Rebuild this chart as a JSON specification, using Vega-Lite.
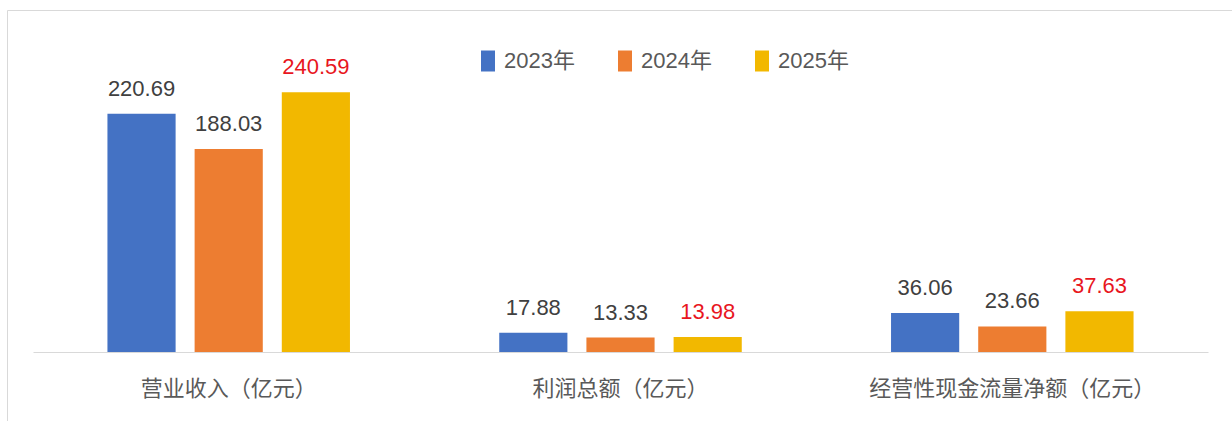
{
  "$schema": "https://vega.github.io/schema/vega-lite/v6.json",
  "width": 1225,
  "height": 411,
  "padding": {"left": 7, "top": 10, "right": 0, "bottom": 0},
  "autosize": {"type": "none"},
  "background": "#FFFFFF",
  "config": {"view": {"stroke": "#D9D9D9", "strokeWidth": 1}},
  "data": {
    "values": [
      {"item": "营业收入（亿元）", "year": "2023年", "value": 220.69},
      {"item": "营业收入（亿元）", "year": "2024年", "value": 188.03},
      {"item": "营业收入（亿元）", "year": "2025年", "value": 240.59},
      {"item": "利润总额（亿元）", "year": "2023年", "value": 17.88},
      {"item": "利润总额（亿元）", "year": "2024年", "value": 13.33},
      {"item": "利润总额（亿元）", "year": "2025年", "value": 13.98},
      {"item": "经营性现金流量净额（亿元）", "year": "2023年", "value": 36.06},
      {"item": "经营性现金流量净额（亿元）", "year": "2024年", "value": 23.66},
      {"item": "经营性现金流量净额（亿元）", "year": "2025年", "value": 37.63}
    ]
  },
  "encoding": {
    "x": {
      "field": "item",
      "type": "nominal",
      "sort": null,
      "scale": {"range": [26, 1201], "paddingInner": 0.381, "paddingOuter": 0.19},
      "axis": {
        "title": null,
        "offset": -69,
        "domainColor": "#D9D9D9",
        "domainWidth": 1,
        "ticks": false,
        "grid": false,
        "labelFont": "Noto Sans CJK SC",
        "labelFontSize": 22,
        "labelColor": "#595959",
        "labelPadding": 26,
        "labelAngle": 0,
        "labelBaseline": "top",
        "labelLimit": 500
      }
    },
    "xOffset": {
      "field": "year",
      "type": "nominal",
      "sort": ["2023年", "2024年", "2025年"],
      "scale": {"paddingInner": 0.218, "paddingOuter": 0}
    },
    "y": {
      "field": "value",
      "type": "quantitative",
      "scale": {"domain": [0, 316.67], "range": [342, 0], "nice": false, "zero": true},
      "axis": null
    }
  },
  "layer": [
    {
      "mark": {"type": "bar"},
      "encoding": {
        "color": {
          "field": "year",
          "type": "nominal",
          "scale": {
            "domain": ["2023年", "2024年", "2025年"],
            "range": ["#4472C4", "#ED7D31", "#F2B800"]
          },
          "legend": {
            "orient": "none",
            "legendX": 470,
            "legendY": 40,
            "direction": "horizontal",
            "title": null,
            "symbolType": "M-0.667,-1H0.667V1H-0.667Z",
            "symbolSize": 441,
            "symbolStrokeWidth": 0,
            "labelFont": "Liberation Sans, Noto Sans CJK SC",
            "labelFontSize": 22,
            "labelColor": "#595959",
            "labelOffset": 5,
            "columnPadding": 39,
            "padding": 0
          }
        }
      }
    },
    {
      "mark": {
        "type": "text",
        "baseline": "alphabetic",
        "dy": -18,
        "font": "Liberation Sans, sans-serif",
        "fontSize": 22
      },
      "encoding": {
        "text": {"field": "value", "type": "quantitative", "format": ".2f"},
        "color": {
          "condition": {"test": "datum.year === '2025年'", "value": "#E8161E"},
          "value": "#404040"
        }
      }
    }
  ]
}
